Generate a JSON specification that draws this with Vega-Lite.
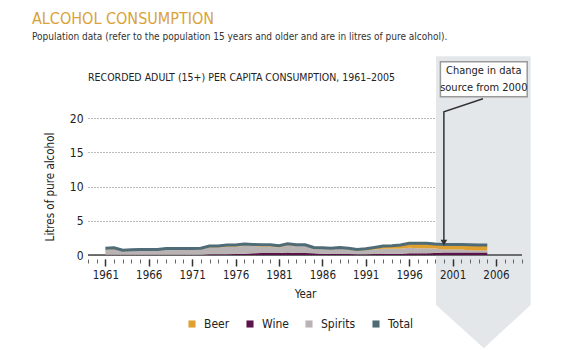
{
  "$schema": "https://vega.github.io/schema/vega-lite/v6.json",
  "autosize": {"type": "none"},
  "width": 434,
  "height": 137,
  "padding": {"left": 88, "top": 118, "right": 56, "bottom": 95},
  "background": "white",
  "config": {
    "font": "DejaVu Sans Condensed, Liberation Sans, sans-serif",
    "view": {"stroke": null},
    "axis": {"labelFont": "DejaVu Sans Condensed, Liberation Sans, sans-serif", "titleFont": "DejaVu Sans Condensed, Liberation Sans, sans-serif", "labelColor": "#222", "titleColor": "#222", "titleFontWeight": "normal"},
    "axisY": {"values": [0, 5, 10, 15, 20], "grid": true, "gridDash": [1, 2], "gridColor": "#777", "domain": false, "ticks": false, "labelPadding": 5, "labelFontSize": 12, "titleFontSize": 11.5, "titlePadding": 14, "zindex": 1},
    "legend": {"labelFont": "DejaVu Sans Condensed, Liberation Sans, sans-serif"}
  },
  "title": {
    "text": "ALCOHOL CONSUMPTION",
    "subtitle": "Population data (refer to the population 15 years and older and are in litres of pure alcohol).",
    "anchor": "start",
    "frame": "group",
    "dx": -56,
    "offset": 14,
    "fontSize": 16,
    "fontWeight": "normal",
    "color": "#d9a23a",
    "font": "DejaVu Sans Condensed, Liberation Sans, sans-serif",
    "subtitleFont": "DejaVu Sans Condensed, Liberation Sans, sans-serif",
    "subtitleFontSize": 10,
    "subtitleColor": "#333",
    "subtitlePadding": 5
  },
  "datasets": {
    "alc": [
      {"year": 1961, "Wine": 0.05, "Spirits": 0.75, "Beer": 0.05, "Total": 1.0},
      {"year": 1962, "Wine": 0.05, "Spirits": 0.8, "Beer": 0.05, "Total": 1.05},
      {"year": 1963, "Wine": 0.05, "Spirits": 0.5, "Beer": 0.05, "Total": 0.7},
      {"year": 1964, "Wine": 0.05, "Spirits": 0.55, "Beer": 0.05, "Total": 0.75},
      {"year": 1965, "Wine": 0.05, "Spirits": 0.6, "Beer": 0.05, "Total": 0.8},
      {"year": 1966, "Wine": 0.05, "Spirits": 0.6, "Beer": 0.05, "Total": 0.8},
      {"year": 1967, "Wine": 0.05, "Spirits": 0.6, "Beer": 0.05, "Total": 0.8},
      {"year": 1968, "Wine": 0.05, "Spirits": 0.75, "Beer": 0.05, "Total": 0.95},
      {"year": 1969, "Wine": 0.05, "Spirits": 0.75, "Beer": 0.05, "Total": 0.95},
      {"year": 1970, "Wine": 0.05, "Spirits": 0.75, "Beer": 0.05, "Total": 0.95},
      {"year": 1971, "Wine": 0.05, "Spirits": 0.75, "Beer": 0.05, "Total": 0.95},
      {"year": 1972, "Wine": 0.05, "Spirits": 0.8, "Beer": 0.05, "Total": 1.0},
      {"year": 1973, "Wine": 0.1, "Spirits": 1.0, "Beer": 0.05, "Total": 1.3},
      {"year": 1974, "Wine": 0.1, "Spirits": 1.0, "Beer": 0.05, "Total": 1.3},
      {"year": 1975, "Wine": 0.1, "Spirits": 1.1, "Beer": 0.1, "Total": 1.45},
      {"year": 1976, "Wine": 0.15, "Spirits": 1.05, "Beer": 0.1, "Total": 1.45},
      {"year": 1977, "Wine": 0.2, "Spirits": 1.15, "Beer": 0.1, "Total": 1.6},
      {"year": 1978, "Wine": 0.25, "Spirits": 1.05, "Beer": 0.1, "Total": 1.55},
      {"year": 1979, "Wine": 0.3, "Spirits": 0.95, "Beer": 0.1, "Total": 1.5},
      {"year": 1980, "Wine": 0.3, "Spirits": 0.95, "Beer": 0.1, "Total": 1.5},
      {"year": 1981, "Wine": 0.3, "Spirits": 0.8, "Beer": 0.1, "Total": 1.35},
      {"year": 1982, "Wine": 0.35, "Spirits": 1.05, "Beer": 0.1, "Total": 1.65},
      {"year": 1983, "Wine": 0.3, "Spirits": 1.0, "Beer": 0.1, "Total": 1.5},
      {"year": 1984, "Wine": 0.3, "Spirits": 1.0, "Beer": 0.1, "Total": 1.5},
      {"year": 1985, "Wine": 0.25, "Spirits": 0.7, "Beer": 0.05, "Total": 1.1},
      {"year": 1986, "Wine": 0.2, "Spirits": 0.7, "Beer": 0.05, "Total": 1.05},
      {"year": 1987, "Wine": 0.15, "Spirits": 0.7, "Beer": 0.05, "Total": 1.0},
      {"year": 1988, "Wine": 0.15, "Spirits": 0.8, "Beer": 0.05, "Total": 1.1},
      {"year": 1989, "Wine": 0.15, "Spirits": 0.7, "Beer": 0.05, "Total": 1.0},
      {"year": 1990, "Wine": 0.1, "Spirits": 0.55, "Beer": 0.05, "Total": 0.8},
      {"year": 1991, "Wine": 0.1, "Spirits": 0.6, "Beer": 0.1, "Total": 0.9},
      {"year": 1992, "Wine": 0.15, "Spirits": 0.65, "Beer": 0.2, "Total": 1.1},
      {"year": 1993, "Wine": 0.15, "Spirits": 0.75, "Beer": 0.3, "Total": 1.3},
      {"year": 1994, "Wine": 0.2, "Spirits": 0.7, "Beer": 0.35, "Total": 1.35},
      {"year": 1995, "Wine": 0.2, "Spirits": 0.7, "Beer": 0.45, "Total": 1.45},
      {"year": 1996, "Wine": 0.25, "Spirits": 0.8, "Beer": 0.55, "Total": 1.7},
      {"year": 1997, "Wine": 0.25, "Spirits": 0.75, "Beer": 0.6, "Total": 1.7},
      {"year": 1998, "Wine": 0.25, "Spirits": 0.75, "Beer": 0.6, "Total": 1.7},
      {"year": 1999, "Wine": 0.3, "Spirits": 0.65, "Beer": 0.55, "Total": 1.6},
      {"year": 2000, "Wine": 0.35, "Spirits": 0.45, "Beer": 0.5, "Total": 1.55},
      {"year": 2001, "Wine": 0.35, "Spirits": 0.45, "Beer": 0.5, "Total": 1.55},
      {"year": 2002, "Wine": 0.35, "Spirits": 0.45, "Beer": 0.5, "Total": 1.55},
      {"year": 2003, "Wine": 0.35, "Spirits": 0.35, "Beer": 0.6, "Total": 1.5},
      {"year": 2004, "Wine": 0.35, "Spirits": 0.3, "Beer": 0.65, "Total": 1.45},
      {"year": 2005, "Wine": 0.35, "Spirits": 0.3, "Beer": 0.65, "Total": 1.45}
    ],
    "band": [
      {"bx": 1999.1, "btop": 29, "bbot": -7.3},
      {"bx": 2004.6, "btop": 29, "bbot": -13.6},
      {"bx": 2010, "btop": 29, "bbot": -7.3}
    ],
    "leader": [
      {"lx": 2004.5, "ly": 22.8, "o": 1},
      {"lx": 2000, "ly": 20.9, "o": 2},
      {"lx": 2000, "ly": 1.8, "o": 3}
    ],
    "tip": [{"tx": 2000, "ty": 1.8}],
    "box": [{"x1": 1999.6, "x2": 2009.6, "y1": 28.2, "y2": 23.1}],
    "boxText": [
      {"tx": 2004.6, "ty": 26.8, "t": "Change in data"},
      {"tx": 2004.6, "ty": 24.4, "t": "source from 2000"}
    ],
    "heading": [{"hx": 1959, "hy": 25.8, "t": "RECORDED ADULT (15+) PER CAPITA CONSUMPTION, 1961–2005"}],
    "base": [{"z": 0}]
  },
  "resolve": {"axis": {"x": "independent"}},
  "layer": [
    {
      "data": {"name": "band"},
      "mark": {"type": "area", "color": "#e4e7ea", "clip": false},
      "encoding": {
        "x": {"field": "bx", "type": "quantitative", "scale": {"domain": [1959, 2009], "nice": false, "zero": false},
          "axis": {"orient": "bottom", "values": [1959,1960,1961,1962,1963,1964,1965,1966,1967,1968,1969,1970,1971,1972,1973,1974,1975,1976,1977,1978,1979,1980,1981,1982,1983,1984,1985,1986,1987,1988,1989,1990,1991,1992,1993,1994,1995,1996,1997,1998,1999,2000,2001,2002,2003,2004,2005,2006,2007,2008,2009], "labels": false, "tickSize": 4, "tickColor": "#666", "domain": false, "offset": 4, "title": null, "grid": false, "zindex": 1}},
        "y": {"field": "btop", "type": "quantitative", "title": "Litres of pure alcohol", "scale": {"domain": [0, 20], "nice": false}},
        "y2": {"field": "bbot"}
      }
    },
    {
      "data": {"name": "base"},
      "mark": {"type": "rule", "color": "#444", "strokeWidth": 1.5},
      "encoding": {
        "y": {"field": "z", "type": "quantitative", "title": "Litres of pure alcohol"}
      }
    },
    {
      "data": {"name": "alc"},
      "transform": [{"fold": ["Wine", "Spirits", "Beer"], "as": ["key", "value"]}],
      "mark": {"type": "area", "clip": false},
      "encoding": {
        "x": {"field": "year", "type": "quantitative", "scale": {"domain": [1959, 2009], "nice": false, "zero": false},
          "axis": {"orient": "bottom", "values": [1961, 1966, 1971, 1976, 1981, 1986, 1991, 1996, 2001, 2006], "format": "d", "tickSize": 7, "tickColor": "#333", "tickWidth": 1.5, "domain": false, "offset": 4, "grid": false, "labelFontSize": 11.5, "labelPadding": 3, "title": "Year", "titleFontSize": 11.5, "titlePadding": 8, "zindex": 1}},
        "y": {"field": "value", "type": "quantitative", "stack": "zero", "title": "Litres of pure alcohol"},
        "order": {"field": "key", "sort": "descending"},
        "color": {"field": "key", "type": "nominal",
          "scale": {"domain": ["Beer", "Wine", "Spirits", "Total"], "range": ["#e0a030", "#5b1349", "#b9b3b4", "#4f6b76"]},
          "legend": {"orient": "none", "legendX": 98, "legendY": 200, "direction": "horizontal", "title": null, "symbolType": "square", "symbolSize": 50, "symbolStrokeWidth": 0, "labelFontSize": 12, "labelColor": "#222", "columnPadding": 14, "labelOffset": 6}}
      }
    },
    {
      "data": {"name": "alc"},
      "mark": {"type": "line", "color": "#4f6b76", "strokeWidth": 3},
      "encoding": {
        "x": {"field": "year", "type": "quantitative", "axis": null},
        "y": {"field": "Total", "type": "quantitative", "title": "Litres of pure alcohol"}
      }
    },
    {
      "data": {"name": "leader"},
      "mark": {"type": "line", "color": "#333", "strokeWidth": 1.5, "clip": false},
      "encoding": {
        "x": {"field": "lx", "type": "quantitative", "axis": null},
        "y": {"field": "ly", "type": "quantitative", "title": "Litres of pure alcohol"},
        "order": {"field": "o"}
      }
    },
    {
      "data": {"name": "tip"},
      "mark": {"type": "point", "shape": "triangle-down", "filled": true, "color": "#333", "size": 45, "opacity": 1, "clip": false},
      "encoding": {
        "x": {"field": "tx", "type": "quantitative", "axis": null},
        "y": {"field": "ty", "type": "quantitative", "title": "Litres of pure alcohol"}
      }
    },
    {
      "data": {"name": "box"},
      "mark": {"type": "rect", "fill": "white", "stroke": "#9a9a9a", "strokeWidth": 1.5, "clip": false},
      "encoding": {
        "x": {"field": "x1", "type": "quantitative", "axis": null},
        "x2": {"field": "x2"},
        "y": {"field": "y1", "type": "quantitative", "title": "Litres of pure alcohol"},
        "y2": {"field": "y2"}
      }
    },
    {
      "data": {"name": "boxText"},
      "mark": {"type": "text", "fontSize": 11, "color": "#222", "align": "center", "baseline": "middle", "clip": false},
      "encoding": {
        "x": {"field": "tx", "type": "quantitative", "axis": null},
        "y": {"field": "ty", "type": "quantitative", "title": "Litres of pure alcohol"},
        "text": {"field": "t"}
      }
    },
    {
      "data": {"name": "heading"},
      "mark": {"type": "text", "fontSize": 10.5, "color": "#222", "align": "left", "baseline": "middle", "clip": false},
      "encoding": {
        "x": {"field": "hx", "type": "quantitative", "axis": null},
        "y": {"field": "hy", "type": "quantitative", "title": "Litres of pure alcohol"},
        "text": {"field": "t"}
      }
    }
  ]
}
